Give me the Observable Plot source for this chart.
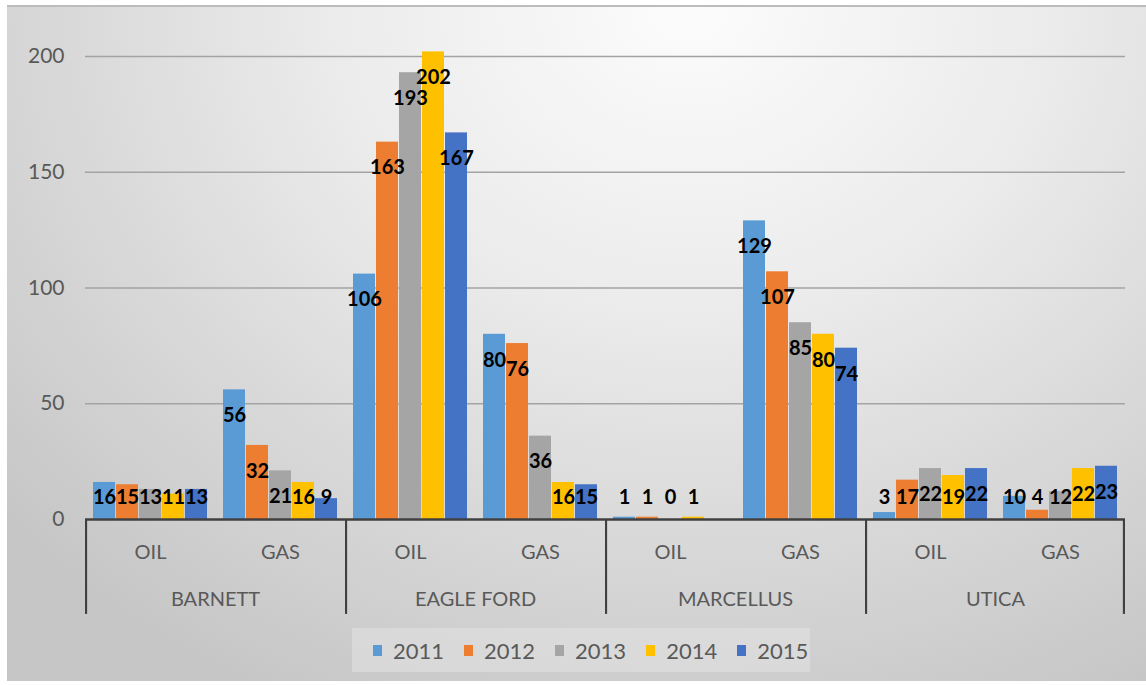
<!DOCTYPE html>
<html>
<head>
<meta charset="utf-8">
<script src="https://cdn.jsdelivr.net/npm/d3@7"></script>
<script src="https://cdn.jsdelivr.net/npm/@observablehq/plot@0.6"></script>
<style>
  body { margin: 0; background: #fff; width: 1146px; height: 685px; overflow: hidden; position: relative; font-family: Lato, "Open Sans", sans-serif; }
  #bg { position: absolute; left: 7px; top: 5px; width: 1139px; height: 676px;
        background: radial-gradient(ellipse 80% 115% at 60% 0%, #fcfcfc 0%, #ebebeb 40%, #d8d8d8 70%, #c6c6c6 100%);
        border-top: 2px solid #bcbcbc; box-sizing: border-box; }
  #chart { position: absolute; left: 0; top: 0; }
  #legend { position: absolute; left: 352px; top: 628px; width: 458px; height: 44px; box-sizing: border-box;
            background: rgba(225,225,225,0.6); display: flex; align-items: center; padding-left: 21px; gap: 20px; }
  .item { display: flex; align-items: center; color: #595959; font-size: 22px; }
  .sw { width: 9px; height: 11px; margin-right: 11px; }
</style>
</head>
<body>
<div id="bg"></div>
<div id="chart"></div>
<div id="legend"></div>
<script>
const plays = ["BARNETT", "EAGLE FORD", "MARCELLUS", "UTICA"];
const types = ["OIL", "GAS"];
const years = ["2011", "2012", "2013", "2014", "2015"];
const colors = ["#5B9BD5", "#ED7D31", "#A5A5A5", "#FFC000", "#4472C4"];
const yTicks = [0, 50, 100, 150, 200];

const barnettOil   = [16, 15, 13, 11, 13];
const barnettGas   = [56, 32, 21, 16, 9];
const eagleFordOil = [106, 163, 193, 202, 167];
const eagleFordGas = [80, 76, 36, 16, 15];
const marcellusOil = [1, 1, 0, 1, null];
const marcellusGas = [129, 107, 85, 80, 74];
const uticaOil     = [3, 17, 22, 19, 22];
const uticaGas     = [10, 4, 12, 22, 23];

const series = {
  "BARNETT|OIL": barnettOil, "BARNETT|GAS": barnettGas,
  "EAGLE FORD|OIL": eagleFordOil, "EAGLE FORD|GAS": eagleFordGas,
  "MARCELLUS|OIL": marcellusOil, "MARCELLUS|GAS": marcellusGas,
  "UTICA|OIL": uticaOil, "UTICA|GAS": uticaGas
};

const keyRows = plays.flatMap(p => types.map(t => ({play: p, type: t, key: p + "|" + t})));
const keys = keyRows.map(d => d.key);
const rows = keyRows.flatMap(k => years.map((y, i) => ({...k, year: y, value: series[k.key][i]})))
  .filter(d => d.value != null);

const W = 1146, H = 625, mL = 83, mR = 20, mT = 56, mB = 106;
const fw = (W - mL - mR) / keys.length;
const axisColor = "#404040";

const chart = Plot.plot({
  width: W, height: H,
  marginLeft: mL, marginRight: mR, marginTop: mT, marginBottom: mB,
  style: {background: "transparent", fontFamily: "Lato, 'Open Sans', sans-serif", overflow: "visible"},
  fx: {domain: keys, padding: 0, axis: null, label: null},
  x: {domain: years, paddingInner: 0.05, paddingOuter: 0.3, axis: null, label: null},
  y: {domain: [0, 200], axis: null, label: null},
  color: {domain: years, range: colors},
  marks: [
    Plot.ruleY(yTicks.filter(t => t > 0), {stroke: "#a3a3a3", strokeWidth: 1.5}),
    Plot.axisY({ticks: yTicks, tickSize: 0, tickPadding: 21, fontSize: 21, color: "#595959", label: null}),
    Plot.barY(rows, {fx: "key", x: "year", y: "value", fill: "year"}),
    Plot.ruleY([0], {stroke: axisColor, strokeWidth: 2.5}),
    Plot.rect(keyRows.filter(d => d.type === "OIL"), {fx: "key", y1: 0, y2: -41, fill: axisColor, insetRight: fw - 2.5}),
    Plot.rect(keyRows.slice(-1), {fx: "key", y1: 0, y2: -41, fill: axisColor, insetLeft: fw - 2.5}),
    Plot.text(keyRows, {fx: "key", text: "type", frameAnchor: "bottom", dy: 39, fontSize: 20, fill: "#595959"}),
    Plot.text(keyRows.filter(d => d.type === "OIL"), {fx: "key", text: "play", frameAnchor: "bottom-right", textAnchor: "middle", dy: 86, fontSize: 20, fill: "#595959"}),
    Plot.text(rows, {fx: "key", x: "year", y: d => Math.max(d.value - 11.2, 9.5), text: "value", fontWeight: "bold", fontSize: 20, fill: "#000"})
  ]
});
document.getElementById("chart").appendChild(chart);

const legend = document.getElementById("legend");
years.forEach((y, i) => {
  const it = document.createElement("div");
  it.className = "item";
  it.innerHTML = `<span class="sw" style="background:${colors[i]}"></span><span>${y}</span>`;
  legend.appendChild(it);
});
</script>
</body>
</html>
